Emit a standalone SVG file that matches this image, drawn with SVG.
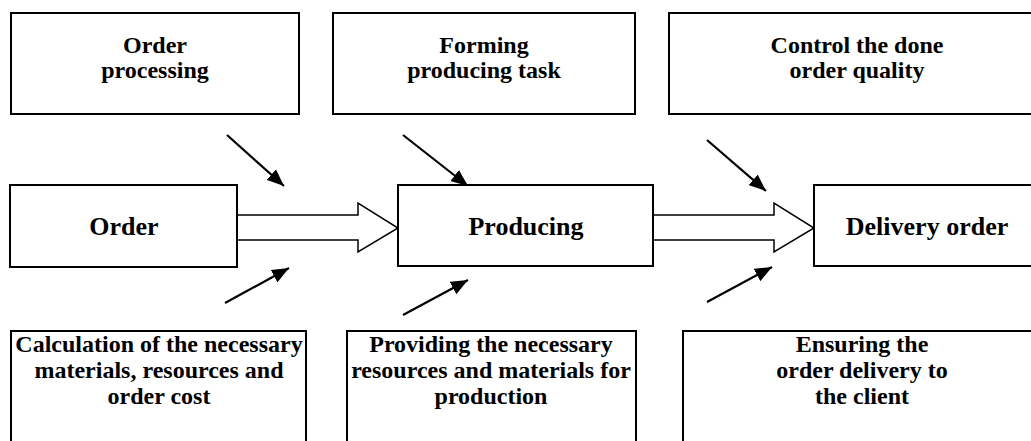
<svg xmlns="http://www.w3.org/2000/svg" width="1031" height="441" viewBox="0 0 1031 441">
<style>
.box{fill:#fff;stroke:#000;stroke-width:2}
.t{font-family:"Liberation Serif","Times New Roman",serif;font-weight:bold;fill:#000;text-anchor:middle}
.s{font-size:24px}
.m{font-size:26px}
.hollow{fill:#fff;stroke:#000;stroke-width:1.5;stroke-linejoin:miter}
.arr{stroke:#000;stroke-width:2.2;fill:none}
</style>
<defs>
<marker id="ah" markerUnits="userSpaceOnUse" markerWidth="17" markerHeight="14" viewBox="0 0 17 14" refX="17" refY="7" orient="auto">
<path d="M0,0 L17,7 L0,14 Z" fill="#000"/>
</marker>
</defs>
<rect width="1031" height="441" fill="#fff"/>
<g id="connectors">
<path class="hollow" d="M237,215 H358 V203 L398,228 L358,252 V240 H237"/>
<path class="hollow" d="M653,215 H774 V203 L814,228 L774,252 V240 H653"/>
<line class="arr" x1="227" y1="135" x2="284" y2="186" marker-end="url(#ah)"/>
<line class="arr" x1="225" y1="303" x2="289" y2="268" marker-end="url(#ah)"/>
<line class="arr" x1="403" y1="135" x2="468" y2="186" marker-end="url(#ah)"/>
<line class="arr" x1="403" y1="315" x2="468" y2="280" marker-end="url(#ah)"/>
<line class="arr" x1="707" y1="140" x2="766" y2="191" marker-end="url(#ah)"/>
<line class="arr" x1="707" y1="302" x2="772" y2="267" marker-end="url(#ah)"/>
</g>
<g id="order-processing">
<rect class="box" x="11" y="13" width="288" height="101"/>
<text class="t s" x="155" y="53">Order</text>
<text class="t s" x="155" y="78">processing</text>
</g>
<g id="forming-task">
<rect class="box" x="333" y="13" width="302" height="101"/>
<text class="t s" x="484" y="53">Forming</text>
<text class="t s" x="484" y="78">producing task</text>
</g>
<g id="control-quality">
<rect class="box" x="669" y="13" width="380" height="101"/>
<text class="t s" x="857" y="53">Control the done</text>
<text class="t s" x="857" y="78">order quality</text>
</g>
<g id="order">
<rect class="box" x="10" y="185" width="227" height="82"/>
<text class="t m" x="124" y="235">Order</text>
</g>
<g id="producing">
<rect class="box" x="398" y="185" width="255" height="81"/>
<text class="t m" x="526" y="235">Producing</text>
</g>
<g id="delivery-order">
<rect class="box" x="814" y="185" width="226" height="81"/>
<text class="t m" x="927" y="235">Delivery order</text>
</g>
<g id="calculation">
<path class="box" d="M11,450 V331 H306 V450"/>
<text class="t s" x="159" y="352">Calculation of the necessary</text>
<text class="t s" x="159" y="378">materials, resources and</text>
<text class="t s" x="159" y="404">order cost</text>
</g>
<g id="providing">
<path class="box" d="M347,450 V331 H636 V450"/>
<text class="t s" x="491" y="352">Providing the necessary</text>
<text class="t s" x="491" y="378">resources and materials for</text>
<text class="t s" x="491" y="404">production</text>
</g>
<g id="ensuring">
<path class="box" d="M683,450 V331 H1045"/>
<text class="t s" x="862" y="352">Ensuring the</text>
<text class="t s" x="862" y="378">order delivery to</text>
<text class="t s" x="862" y="404">the client</text>
</g>
</svg>
